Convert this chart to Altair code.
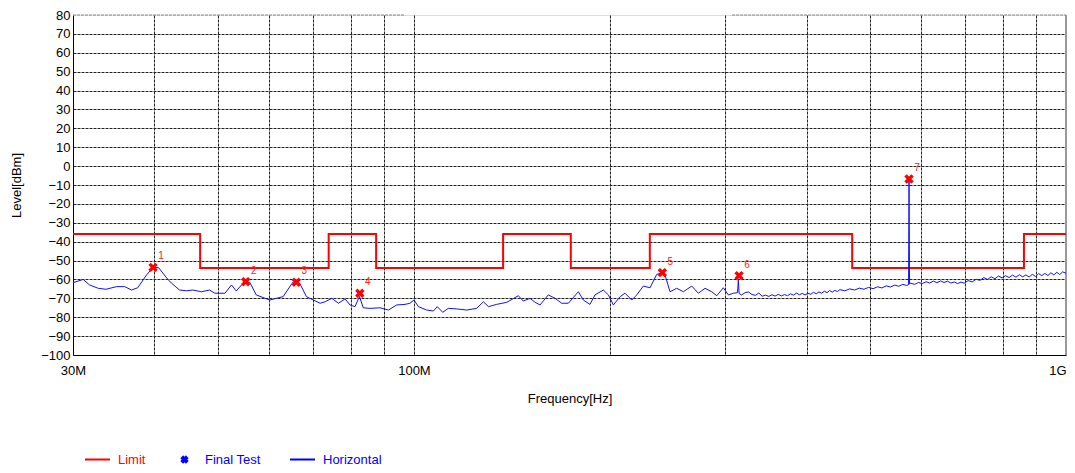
import altair as alt
import pandas as pd

# ---------------- data ----------------
# Horizontal trace (MHz, dBm)
trace_freq = [
    30.0, 31.1, 31.8, 32.8, 33.7, 35.0, 36.0, 36.9, 37.7, 38.9, 39.8, 40.6, 42.0, 42.7, 43.7, 44.8,
    45.8, 47.2, 48.6, 49.5, 51.3, 52.5, 53.4, 54.4, 55.2, 56.0, 57.3, 60.1, 63.0, 65.2, 66.0, 66.8,
    68.4, 70.1, 71.8, 73.1, 74.8, 76.6, 78.4, 79.8, 81.2, 82.5, 83.6, 85.6, 88.7, 91.4, 94.1, 96.9,
    98.6, 100.0, 101.6, 104.6, 107.1, 108.6, 110.7, 112.9, 116.3, 120.5, 124.8, 127.8, 130.1, 133.9,
    138.8, 144.6, 147.1, 150.7, 153.4, 156.1, 160.7, 164.6, 168.5, 172.5, 178.7, 181.9, 186.2, 189.5,
    195.2, 198.7, 202.2, 207.1, 210.7, 215.8, 219.6, 224.8, 230.2, 235.7, 240.4, 242.7, 247.0, 252.9,
    258.9, 266.7, 273.0, 279.5, 286.2, 291.4, 298.2, 303.5, 308.9, 313.5, 314.4, 315.3,
    318, 322, 326, 330, 334, 338, 342, 346, 350, 354, 358, 362, 366, 370, 374, 378, 382, 386, 390,
    394, 398, 402, 406, 410, 414, 418, 422, 426, 430, 434, 438, 442, 446, 450,
    458, 466, 474, 482, 490, 498, 506, 514, 522, 530, 538, 546, 554, 562, 570, 573.5, 574.5, 575.5,
    578, 586, 594, 602, 610, 618, 626, 634, 642, 650, 658, 666, 674, 682, 690, 698,
    708, 718, 728, 738, 748, 758, 768, 778, 788, 798, 808, 818, 828, 838, 848, 858, 868, 878, 888,
    898, 908, 918, 928, 938, 948, 958, 968, 978, 988, 1000,
]
trace_level = [
    -61.7, -60.0, -62.9, -64.7, -65.2, -63.8, -63.8, -65.6, -64.4, -57.6, -53.6, -53.8, -60.3, -62.6, -65.6, -66.0,
    -65.6, -66.5, -65.6, -67.3, -67.3, -62.9, -66.1, -62.9, -61.2, -61.5, -68.2, -70.9, -69.1, -61.5, -61.3, -62.0,
    -69.1, -70.9, -72.6, -71.8, -70.0, -72.6, -70.3, -73.5, -74.4, -69.0, -75.0, -75.3, -75.0, -76.2, -73.5, -73.2,
    -72.6, -70.9, -74.4, -76.2, -76.7, -74.4, -77.4, -75.3, -75.6, -76.2, -75.3, -71.8, -74.4, -73.2,
    -72.1, -68.6, -71.4, -70.0, -72.1, -73.5, -68.2, -70.0, -72.6, -72.6, -66.5, -70.9, -73.2, -68.2,
    -65.6, -68.2, -73.5, -69.1, -67.3, -70.9, -68.2, -63.5, -64.4, -57.3, -56.5, -57.6, -66.5, -64.7,
    -66.5, -63.5, -67.3, -64.7, -66.5, -68.6, -64.4, -68.2, -67.3, -67.0, -60.3, -67.5,
    -68.2, -67.0, -66.6, -68.0, -68.4, -67.2, -68.9, -68.3, -69.0, -68.1, -68.8, -67.9, -68.7, -68.0, -68.6, -67.6, -68.3, -67.2, -68.1,
    -67.4, -68.2, -67.3, -67.9, -66.8, -67.6, -66.6, -67.3, -66.2, -67.0, -65.9, -66.7, -65.8, -66.4, -65.4,
    -66.0, -65.0, -65.6, -64.6, -65.2, -64.2, -64.9, -63.9, -64.5, -63.4, -64.0, -63.0, -63.6, -62.6, -63.2, -62.8, -6.8, -62.4,
    -62.0, -62.6, -61.6, -62.2, -61.2, -61.9, -60.9, -61.7, -60.8, -61.6, -60.9, -61.9, -61.3, -62.2, -61.4, -62.0,
    -60.6, -61.3, -59.9, -60.5, -59.0, -60.0, -58.6, -59.6, -58.2, -59.2, -58.0, -59.0, -57.7, -58.8, -57.5, -58.6, -57.6, -58.7, -57.3,
    -58.4, -56.9, -58.0, -56.8, -57.9, -56.5, -57.6, -56.2, -57.4, -56.0, -56.7,
]

# Limit (step-after)
limit_freq = [30, 47, 74, 87.5, 137, 174, 230, 470, 862, 1000]
limit_level = [-36, -54, -36, -54, -36, -54, -36, -54, -36, -36]

# Final Test markers
marker_freq = [39.8, 55.2, 66.0, 82.6, 240.4, 315.2, 574.5]
marker_level = [-53.6, -61.2, -61.5, -67.3, -56.4, -58.0, -6.8]
marker_label = ["1", "2", "3", "4", "5", "6", "7"]

# Axes
x_tick_values = [30, 40, 50, 60, 70, 80, 90, 100, 200, 300, 400, 500, 600, 700, 800, 900, 1000]
y_tick_values = [-100, -90, -80, -70, -60, -50, -40, -30, -20, -10, 0, 10, 20, 30, 40, 50, 60, 70, 80]

# top frame (partial dashed line at 80 dBm)
top_seg_start = [30, 307.5]
top_seg_end = [96.6, 1000]
top_seg_level = [80, 80]

legend_names = ["Limit", "Final Test", "Horizontal"]
legend_colors = ["#ff0000", "#0000ff", "#0000ff"]

FONT = "Liberation Sans"
X_PATH = "M-1,-0.5L-0.5,-1L0,-0.5L0.5,-1L1,-0.5L0.5,0L1,0.5L0.5,1L0,0.5L-0.5,1L-1,0.5L-0.5,0Z"
X_PATH_SMALL = ("M-0.22,-0.11L-0.11,-0.22L0,-0.11L0.11,-0.22L0.22,-0.11L0.11,0L0.22,0.11"
                "L0.11,0.22L0,0.11L-0.11,0.22L-0.22,0.11L-0.11,0Z")

# ---------------- tables ----------------
trace_df = pd.DataFrame({"freq": trace_freq, "level": trace_level})
limit_df = pd.DataFrame({"freq": limit_freq, "level": limit_level})
marker_df = pd.DataFrame({"freq": marker_freq, "level": marker_level, "label": marker_label})
top_df = pd.DataFrame({"freq": top_seg_start, "freq_end": top_seg_end, "level": top_seg_level})
border_df = pd.DataFrame({"freq": [1000], "level": [-100], "level_end": [80]})
legend_df = pd.DataFrame({"series": legend_names})

# ---------------- encodings ----------------
X = alt.X(
    "freq:Q",
    scale=alt.Scale(type="log", domain=[30, 1000], nice=False),
    axis=alt.Axis(
        values=x_tick_values,
        labelExpr="datum.value == 30 ? '30M' : datum.value == 100 ? '100M' : datum.value == 1000 ? '1G' : ''",
        labelAlign={"condition": {"test": "datum.value == 1000", "value": "right"}, "value": "center"},
        title="Frequency[Hz]",
        grid=True,
        gridColor="#222222",
        gridDash=[3, 1],
        gridWidth=1,
        gridOpacity={"condition": {"test": "datum.value == 30 || datum.value == 1000", "value": 0}, "value": 1},
        ticks=False,
        domainColor="#000000",
        domainWidth=1,
        labelPadding=9,
        labelFont=FONT,
        labelFontSize=13,
        labelColor="#000000",
        labelOverlap=False,
        labelFlush=False,
        titleFont=FONT,
        titleFontSize=13,
        titleFontWeight="normal",
        titleColor="#000000",
        titleBaseline="alphabetic",
        titleY=47,
    ),
)
Y = alt.Y(
    "level:Q",
    scale=alt.Scale(domain=[-100, 80], nice=False, zero=False),
    axis=alt.Axis(
        values=y_tick_values,
        title="Level[dBm]",
        grid=True,
        gridColor="#222222",
        gridDash=[3, 1],
        gridWidth=1,
        gridOpacity={"condition": {"test": "datum.value == -100 || datum.value == 80", "value": 0}, "value": 1},
        ticks=False,
        domainColor="#000000",
        domainWidth=1,
        labelPadding=3,
        labelFont=FONT,
        labelFontSize=13,
        labelColor="#000000",
        labelOverlap=False,
        labelFlush=False,
        titleFont=FONT,
        titleFontSize=13,
        titleFontWeight="normal",
        titleColor="#000000",
        titleAngle=270,
        titleAlign="center",
        titleBaseline="alphabetic",
        titleX=-53,
        titleY=170,
    ),
)

top_rule = alt.Chart(top_df).mark_rule(color="#888888", strokeDash=[3, 1], strokeWidth=1).encode(
    x=X, x2="freq_end:Q", y=Y
)
border = alt.Chart(border_df).mark_rule(color="#999999", strokeWidth=2).encode(
    x=X, y=Y, y2="level_end:Q"
)
limit = alt.Chart(limit_df).mark_line(interpolate="step-after", color="#ff0000", strokeWidth=2).encode(
    x=X, y=Y
)
trace = alt.Chart(trace_df).mark_line(color="#1010ff", strokeWidth=1).encode(x=X, y=Y)
markers = alt.Chart(marker_df).mark_point(
    shape=X_PATH, size=88, filled=True, color="#ff0000", opacity=1, strokeWidth=0
).encode(x=X, y=Y)
labels = alt.Chart(marker_df).mark_text(
    dx=8, dy=-11, fontSize=10, font=FONT, color="#ff2020", align="center"
).encode(x=X, y=Y, text="label:N")

leg = alt.Legend(
    title=None,
    orient="none",
    legendX=11,
    legendY=431,
    direction="horizontal",
    columns=3,
    labelFont=FONT,
    labelFontSize=13,
    labelColor={"expr": "datum.value == 'Limit' ? '#ff0000' : '#0000ff'"},
    columnPadding=25,
    labelOffset=7,
    symbolStrokeWidth=2,
    symbolSize=625,
    gridAlign="none",
)
legend_layer = alt.Chart(legend_df).mark_point(filled=True, size=625, opacity=1, strokeWidth=2).encode(
    fill=alt.Fill("series:N", scale=alt.Scale(domain=legend_names, range=legend_colors), legend=leg),
    stroke=alt.Stroke("series:N", scale=alt.Scale(domain=legend_names, range=legend_colors), legend=leg),
    shape=alt.Shape("series:N", scale=alt.Scale(domain=legend_names, range=["stroke", X_PATH_SMALL, "stroke"]), legend=leg),
).transform_filter("false")

chart = alt.layer(top_rule, border, limit, trace, markers, labels, legend_layer).properties(
    width=993,
    height=340,
    autosize=alt.AutoSizeParams(type="none"),
    padding={"left": 65, "top": 7, "right": 1, "bottom": 110},
).configure_view(stroke=None).configure(background="#ffffff")

chart.save("out.html", embed_options={"renderer": "svg", "actions": False})
